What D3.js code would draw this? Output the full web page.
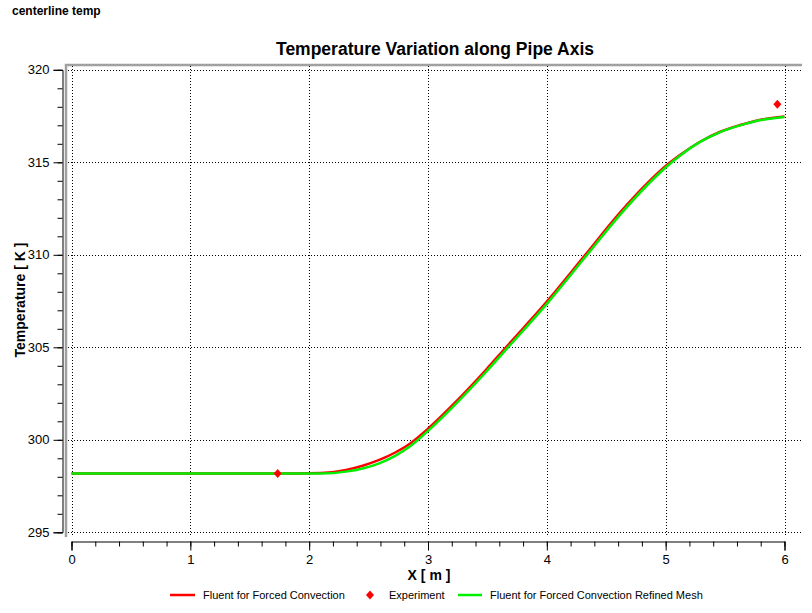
<!DOCTYPE html>
<html>
<head>
<meta charset="utf-8">
<script src="https://cdn.jsdelivr.net/npm/d3@7"></script>
<style>
  body { margin:0; background:#fff; }
  svg { display:block; font-family:"Liberation Sans", Arial, sans-serif; }
</style>
</head>
<body>
<svg id="chart" width="812" height="613"></svg>
<script>
// data
var xCoarse = [0, 1, 1.9, 2.1, 2.31, 2.45, 2.59, 2.72, 2.85, 3.0, 3.21, 3.49, 3.66, 4.0, 4.32, 4.61, 4.85, 5.0, 5.12, 5.29, 5.46, 5.62, 5.79, 6.0];
var tCoarse = [298.18, 298.18, 298.18, 298.2, 298.37, 298.6, 298.91, 299.3, 299.8, 300.6, 301.9, 303.8, 305.03, 307.47, 309.97, 312.24, 313.9, 314.8, 315.39, 316.11, 316.65, 317.0, 317.29, 317.48];
var xRefined = [0, 1, 1.9, 2.1, 2.31, 2.45, 2.59, 2.72, 2.85, 3.0, 3.21, 3.49, 3.66, 4.0, 4.32, 4.61, 4.85, 5.0, 5.12, 5.29, 5.46, 5.62, 5.79, 6.0];
var tRefined = [298.18, 298.18, 298.18, 298.18, 298.28, 298.45, 298.73, 299.12, 299.65, 300.48, 301.78, 303.68, 304.9, 307.35, 309.85, 312.12, 313.8, 314.72, 315.36, 316.1, 316.63, 316.98, 317.27, 317.45];
var xExp = [1.735, 5.94];
var tExp = [298.18, 318.14];
var xTicks = [0, 1, 2, 3, 4, 5, 6];
var yTicks = [295, 300, 305, 310, 315, 320];

var svg = d3.select("#chart");

var x = d3.scaleLinear().domain([0, 6]).range([71.5, 784.5]);
var y = d3.scaleLinear().domain([295, 320]).range([532.3, 69.8]);

// frame (only top and left edges shown)
svg.append("path")
  .attr("d", "M66,537V65H802")
  .attr("fill", "none")
  .attr("stroke", "#a0a0a0")
  .attr("stroke-width", 2.5);

// dotted grid
var grid = svg.append("g").attr("stroke", "#000").attr("stroke-width", 1).attr("stroke-dasharray", "1,2");
grid.selectAll(".vg").data(xTicks).enter().append("line")
  .attr("x1", d => Math.round(x(d)) + 0.5).attr("x2", d => Math.round(x(d)) + 0.5)
  .attr("y1", 66).attr("y2", 537);
grid.selectAll(".hg").data(yTicks).enter().append("line")
  .attr("y1", d => Math.round(y(d)) + 0.5).attr("y2", d => Math.round(y(d)) + 0.5)
  .attr("x1", 68).attr("x2", 801);

// y axis
var yAxis = d3.axisLeft(y).tickValues(yTicks).tickSize(9).tickPadding(4).tickFormat(d3.format("d"));
var yAxisG = svg.append("g").attr("transform", "translate(62.5,0)");
yAxisG.call(yAxis);
yAxisG.append("g").call(d3.axisLeft(y).ticks(25).tickSize(5).tickFormat(""))
  .select(".domain").remove();
yAxisG.selectAll("text").attr("font-size", 13).attr("font-family", "Liberation Sans, Arial").attr("fill", "#000");
yAxisG.selectAll("line, path").attr("stroke", "#000");

// x axis
var xAxis = d3.axisBottom(x).tickValues(xTicks).tickSize(9).tickPadding(4).tickFormat(d3.format("d"));
var xAxisG = svg.append("g").attr("transform", "translate(0,541.5)");
xAxisG.call(xAxis);
xAxisG.append("g").call(d3.axisBottom(x).ticks(30).tickSize(5).tickFormat(""))
  .select(".domain").remove();
xAxisG.selectAll("text").attr("font-size", 13).attr("font-family", "Liberation Sans, Arial").attr("fill", "#000");
xAxisG.selectAll("line, path").attr("stroke", "#000");

// lines
var line = d3.line()
  .x(d => x(d[0]))
  .y(d => y(d[1]))
  .curve(d3.curveMonotoneX);

svg.append("path")
  .datum(d3.zip(xCoarse, tCoarse))
  .attr("d", line)
  .attr("fill", "none")
  .attr("stroke", "#ff0000")
  .attr("stroke-width", 2.5);

svg.append("path")
  .datum(d3.zip(xRefined, tRefined))
  .attr("d", line)
  .attr("fill", "none")
  .attr("stroke", "#00ee00")
  .attr("stroke-width", 2.5);

// experiment points
var diamond = "M0,-4.5L4,0L0,4.5L-4,0Z";
svg.selectAll(".exp").data(d3.zip(xExp, tExp)).enter().append("path")
  .attr("d", diamond)
  .attr("transform", d => "translate(" + x(d[0]) + "," + y(d[1]) + ")")
  .attr("fill", "#ff0000");

// texts
svg.append("text").attr("x", 12).attr("y", 15)
  .attr("font-size", 12).attr("font-weight", "bold").text("centerline temp");

svg.append("text").attr("x", 435).attr("y", 55)
  .attr("text-anchor", "middle").attr("font-size", 17.5).attr("font-weight", "bold")
  .text("Temperature Variation along Pipe Axis");

svg.append("text").attr("x", 429).attr("y", 580)
  .attr("text-anchor", "middle").attr("font-size", 14).attr("font-weight", "bold")
  .text("X [ m ]");

svg.append("text")
  .attr("transform", "translate(25,300) rotate(-90)")
  .attr("text-anchor", "middle").attr("font-size", 14).attr("font-weight", "bold")
  .text("Temperature [ K ]");

// legend
var legend = svg.append("g").attr("font-size", 11);
legend.append("line").attr("x1", 170).attr("x2", 195).attr("y1", 595).attr("y2", 595)
  .attr("stroke", "#ff0000").attr("stroke-width", 2.5);
legend.append("text").attr("x", 203).attr("y", 599).text("Fluent for Forced Convection");
legend.append("path").attr("d", diamond).attr("transform", "translate(370,595)").attr("fill", "#ff0000");
legend.append("text").attr("x", 389).attr("y", 599).text("Experiment");
legend.append("line").attr("x1", 458).attr("x2", 482).attr("y1", 595).attr("y2", 595)
  .attr("stroke", "#00ee00").attr("stroke-width", 2.5);
legend.append("text").attr("x", 490).attr("y", 599).text("Fluent for Forced Convection Refined Mesh");
</script>
</body>
</html>
